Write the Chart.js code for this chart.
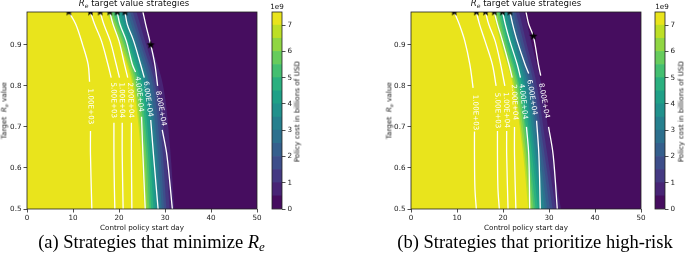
<!DOCTYPE html>
<html><head><meta charset="utf-8">
<script src="https://cdn.jsdelivr.net/npm/chart.js@4.4.1/dist/chart.umd.min.js"></script>
<style>
body{margin:0;background:#fff;width:685px;height:254px;position:relative;overflow:hidden;font-family:"DejaVu Sans",sans-serif;}
canvas{position:absolute;top:0;}
.t{position:absolute;white-space:nowrap;color:#111;line-height:1;text-align:center;}
.ttl{font-size:8.6px;width:200px;}
.lab{font-size:7.2px;width:200px;}
.cap{font-family:"Liberation Serif",serif;font-size:18.5px;width:400px;color:#000;}
.rot{transform:rotate(-90deg);transform-origin:center center;}
.m{font-style:italic;}
.m sub{font-size:70%;vertical-align:-0.3em;line-height:0;}
</style></head><body>
<canvas id="ma" width="265" height="225" style="left:0px"></canvas>
<canvas id="ca" width="40" height="225" style="left:262px"></canvas>
<canvas id="mb" width="265" height="225" style="left:384px"></canvas>
<canvas id="cb" width="40" height="225" style="left:645px"></canvas>

<div class="t ttl" style="left:34px;top:-1px"><span class="m">R<sub>e</sub></span> target value strategies</div>
<div class="t ttl" style="left:426px;top:-1px"><span class="m">R<sub>e</sub></span> target value strategies</div>
<div class="t lab" style="left:42px;top:224px">Control policy start day</div>
<div class="t lab" style="left:426px;top:224px">Control policy start day</div>
<div class="t lab rot" style="left:-95.8px;top:107px">Target &nbsp;<span class="m">R<sub>e</sub></span> value</div>
<div class="t lab rot" style="left:289px;top:107px">Target &nbsp;<span class="m">R<sub>e</sub></span> value</div>
<div class="t lab rot" style="left:197px;top:107.5px">Policy cost in billions of USD</div>
<div class="t lab rot" style="left:580.7px;top:107.5px">Policy cost in billions of USD</div>
<div class="t lab" style="left:177px;top:3.2px">1e9</div>
<div class="t lab" style="left:562px;top:3.2px">1e9</div>
<div class="t cap" style="left:-48.5px;top:232.5px">(a) Strategies that minimize <i>R<sub style="font-size:70%;vertical-align:-0.25em;line-height:0">e</sub></i></div>
<div class="t cap" style="left:335px;top:232.5px">(b) Strategies that prioritize high-risk</div>

<script>
// ---------------- data ----------------
const xTicks = [0, 10, 20, 30, 40, 50];
const yTicks = [0.5, 0.6, 0.7, 0.8, 0.9];
const cbTicks = [0, 1, 2, 3, 4, 5, 6, 7];
const costLevels = [0, 0.5, 1, 1.5, 2, 2.5, 3, 3.5, 4, 4.5, 5, 5.5, 6, 6.5, 7, 7.5]; // billions USD
const dayRange = [0, 50];
const rRange = [0.5, 0.98];

// filled-contour edges: start day where cost drops below each level, read at these R values
const bandR = [0.98, 0.9, 0.8, 0.65, 0.5];
// rows: level 7.0, 6.5, ..., 0.5
const edgesA = [
  [17.3, 20.2, 23.0, 24.7, 25.5],
  [17.7, 20.5, 23.3, 25.0, 25.8],
  [18.2, 21.0, 23.7, 25.4, 26.2],
  [18.6, 21.4, 24.1, 25.8, 26.6],
  [19.1, 21.8, 24.5, 26.2, 27.0],
  [19.6, 22.2, 25.0, 26.6, 27.5],
  [20.2, 22.7, 25.4, 27.1, 27.9],
  [20.7, 23.2, 25.9, 27.5, 28.4],
  [21.2, 23.7, 26.4, 28.0, 28.8],
  [21.8, 24.1, 26.8, 28.4, 29.3],
  [22.4, 24.7, 27.4, 28.9, 29.8],
  [23.0, 25.2, 27.9, 29.4, 30.3],
  [23.8, 25.9, 28.5, 30.1, 31.0],
  [25.0, 27.0, 29.6, 31.1, 32.0]
];
const edgesB = [
  [17.8, 19.6, 22.2, 24.2, 25.5],
  [18.1, 19.9, 22.5, 24.5, 25.9],
  [18.6, 20.3, 22.9, 24.9, 26.3],
  [19.0, 20.7, 23.3, 25.3, 26.7],
  [19.4, 21.1, 23.6, 25.6, 27.1],
  [19.8, 21.6, 24.1, 26.1, 27.6],
  [20.3, 22.1, 24.5, 26.5, 28.1],
  [20.8, 22.6, 24.9, 26.9, 28.6],
  [21.3, 23.0, 25.4, 27.4, 29.1],
  [21.7, 23.5, 25.8, 27.8, 29.6],
  [22.3, 24.0, 26.3, 28.3, 30.2],
  [22.8, 24.6, 26.8, 28.8, 30.8],
  [23.5, 25.2, 27.4, 29.4, 31.5],
  [24.6, 26.3, 28.4, 30.4, 32.6]
];

// white contour lines [day, R]; each line = [upper part, lower part] split at its label
const contourNames = ['1.00E+03', '5.00E+03', '1.00E+04', '2.00E+04', '4.00E+04', '6.00E+04', '8.00E+04'];
const linesA = [
  [[[9.1,0.98],[10.6,0.95],[12.1,0.9],[13.3,0.852],[13.6,0.81]], [[13.8,0.69],[13.8,0.632],[14.1,0.5]]],
  [[[13.8,0.98],[14.7,0.95],[16.2,0.909],[17.6,0.852],[18.3,0.82]], [[18.9,0.71],[18.9,0.632],[19.0,0.55],[19.1,0.5]]],
  [[[15.9,0.98],[16.7,0.95],[18.1,0.909],[19.4,0.852],[20.1,0.82]], [[20.7,0.71],[20.7,0.632],[20.9,0.5]]],
  [[[18.0,0.98],[18.7,0.95],[20.0,0.909],[21.2,0.852],[21.9,0.82]], [[22.7,0.71],[22.7,0.632],[22.8,0.5]]],
  [[[19.6,0.98],[20.2,0.95],[21.6,0.909],[22.9,0.852],[23.6,0.834]], [[24.9,0.725],[25.2,0.632],[25.7,0.5]]],
  [[[21.3,0.98],[21.8,0.95],[23.2,0.909],[24.7,0.852],[25.5,0.82]], [[26.9,0.717],[27.5,0.632],[28.5,0.5]]],
  [[[25.2,0.98],[25.8,0.95],[26.9,0.9],[27.8,0.852],[28.4,0.80]], [[29.4,0.693],[30.4,0.632],[31.6,0.5]]]
];
const linesB = [
  [[[9.4,0.98],[10.5,0.95],[11.7,0.909],[12.8,0.852],[13.5,0.795]], [[13.8,0.689],[13.8,0.632],[13.9,0.55],[14.2,0.5]]],
  [[[14.2,0.98],[14.9,0.95],[16.1,0.909],[17.7,0.852],[18.5,0.80]], [[18.8,0.69],[18.8,0.632],[18.9,0.55],[19.2,0.5]]],
  [[[16.2,0.98],[16.9,0.95],[18.3,0.909],[19.5,0.852],[20.4,0.80]], [[20.8,0.69],[20.8,0.632],[21.1,0.5]]],
  [[[18.1,0.98],[18.8,0.95],[19.9,0.909],[21.3,0.852],[22.0,0.82]], [[22.5,0.70],[22.5,0.632],[22.8,0.5]]],
  [[[19.9,0.98],[20.5,0.95],[21.5,0.909],[23.1,0.852],[23.8,0.82]], [[25.1,0.70],[25.6,0.632],[25.8,0.5]]],
  [[[21.5,0.98],[22.1,0.95],[23.1,0.909],[24.8,0.852],[25.6,0.83]], [[27.3,0.715],[27.8,0.632],[28.1,0.5]]],
  [[[25.0,0.98],[25.6,0.95],[26.6,0.921],[27.7,0.852],[28.2,0.825]], [[29.9,0.70],[30.9,0.632],[31.8,0.5]]]
];
const starsA = [[9.1,0.98],[13.8,0.98],[15.9,0.98],[18.0,0.98],[19.6,0.98],[21.3,0.98],[26.9,0.9]];
const starsB = [[9.4,0.98],[14.2,0.98],[16.2,0.98],[18.1,0.98],[19.9,0.98],[21.5,0.98],[26.6,0.921]];
// contour label anchors [day, R, angle deg]
const labelsA = [[13.8,0.75,89],[18.8,0.765,89],[20.6,0.765,89],[22.5,0.765,88],[24.4,0.78,84],[26.3,0.768,82],[29.1,0.745,80]];
const labelsB = [[14.0,0.735,89],[18.8,0.74,89],[20.7,0.741,88],[22.5,0.76,87],[24.4,0.762,84],[26.3,0.772,81],[28.9,0.764,80]];

// viridis colours of the 15 bands (bottom -> top)
const bandColors = ['#460d5f','#482475','#443982','#3d4e8a','#355f8d','#2d708e','#26808e','#21918c',
                    '#1fa087','#2bb07f','#44bf70','#67cc5c','#90d643','#bddf26','#e9e41c'];

// ---------------- drawing ----------------
const font7 = {family: 'DejaVu Sans', size: 7.2};
const tickColor = '#222';

function makeStar(r) {
  const c = document.createElement('canvas');
  const s = Math.ceil(r * 2 + 2);
  c.width = s; c.height = s;
  const g = c.getContext('2d');
  g.fillStyle = '#000';
  g.beginPath();
  for (let i = 0; i < 10; i++) {
    const rr = i % 2 ? r * 0.42 : r;
    const a = -Math.PI / 2 + i * Math.PI / 5;
    g.lineTo(s / 2 + rr * Math.cos(a), s / 2 + rr * Math.sin(a));
  }
  g.closePath(); g.fill();
  return c;
}
const starImg = makeStar(4.3);

const framePlugin = {
  id: 'frame',
  afterDatasetsDraw(chart) {
    const a = chart.chartArea, ctx = chart.ctx;
    ctx.save();
    ctx.strokeStyle = '#222'; ctx.lineWidth = 0.8;
    ctx.strokeRect(a.left, a.top, a.right - a.left, a.bottom - a.top);
    ctx.restore();
  }
};
const labelPlugin = {
  id: 'clabels',
  afterDatasetsDraw(chart, args, opts) {
    const ctx = chart.ctx, xs = chart.scales.x, ys = chart.scales.y;
    ctx.save();
    ctx.fillStyle = '#fff';
    ctx.font = '7.2px "DejaVu Sans"';
    ctx.textAlign = 'center'; ctx.textBaseline = 'middle';
    opts.items.forEach((l, i) => {
      ctx.save();
      ctx.translate(xs.getPixelForValue(l[0]), ys.getPixelForValue(l[1]));
      ctx.rotate(l[2] * Math.PI / 180);
      ctx.fillText(contourNames[i], 0, 0);
      ctx.restore();
    });
    ctx.restore();
  }
};

const pts = arr => arr.map(p => ({x: p[0], y: p[1]}));

function axisOpts(extra) {
  return Object.assign({
    type: 'linear',
    grid: {display: true, drawOnChartArea: false, drawTicks: true, tickLength: 3.5, color: '#222', lineWidth: 0.8},
    border: {display: false},
    ticks: {font: font7, color: tickColor, maxRotation: 0, autoSkip: false}
  }, extra);
}

function makeMain(id, edges, lines, stars, labels) {
  const ds = [];
  ds.push({data: pts([[dayRange[1], rRange[1]], [dayRange[1], rRange[0]]]), fill: {value: dayRange[0]},
           backgroundColor: bandColors[0], borderColor: 'rgba(0,0,0,0)', borderWidth: 0, pointRadius: 0, order: 30});
  edges.forEach((row, k) => {
    ds.push({data: pts(row.map((d, j) => [d, bandR[j]])), fill: {value: dayRange[0]},
             backgroundColor: bandColors[14 - k], borderColor: 'rgba(0,0,0,0)', borderWidth: 0,
             pointRadius: 0, tension: 0.35, order: 2 + k});
  });
  lines.forEach(line => line.forEach(seg => {
    ds.push({data: pts(seg), borderColor: '#fff', borderWidth: 1.3, fill: false, pointRadius: 0,
             tension: 0.35, order: 1, clip: 0});
  }));
  ds.push({data: pts(stars), showLine: false, pointStyle: starImg, pointRadius: 4.3, order: 0, clip: 0});
  new Chart(document.getElementById(id), {
    type: 'line',
    data: {datasets: ds},
    plugins: [framePlugin, labelPlugin],
    options: {
      responsive: false, animation: false, events: [], indexAxis: 'y',
      layout: {padding: {top: 12, right: 8, left: 0, bottom: 0}},
      plugins: {legend: {display: false}, tooltip: {enabled: false}, clabels: {items: labels}},
      scales: {
        x: axisOpts({position: 'bottom', min: dayRange[0], max: dayRange[1],
          afterBuildTicks: s => { s.ticks = xTicks.map(v => ({value: v})); },
          afterFit: s => { s.height = 16; },
          ticks: {font: font7, color: tickColor, maxRotation: 0, autoSkip: false, padding: 1, callback: v => String(v)}}),
        y: axisOpts({position: 'left', min: rRange[0], max: rRange[1],
          afterBuildTicks: s => { s.ticks = yTicks.map(v => ({value: v})); },
          afterFit: s => { s.width = 27; },
          ticks: {font: font7, color: tickColor, autoSkip: false, padding: 2, callback: v => v.toFixed(1)}})
      }
    }
  });
}

function makeBar(id) {
  const ds = bandColors.map((c, i) => ({
    data: [costLevels[i + 1] - costLevels[i]], backgroundColor: c, borderWidth: 0,
    barPercentage: 1, categoryPercentage: 1
  }));
  new Chart(document.getElementById(id), {
    type: 'bar',
    data: {labels: [''], datasets: ds},
    plugins: [framePlugin],
    options: {
      responsive: false, animation: false, events: [],
      layout: {padding: {top: 12, bottom: 16, left: 10, right: 0}},
      plugins: {legend: {display: false}, tooltip: {enabled: false}},
      scales: {
        x: {display: false, stacked: true},
        y: axisOpts({stacked: true, position: 'right', min: costLevels[0], max: costLevels[costLevels.length - 1],
          afterBuildTicks: s => { s.ticks = cbTicks.map(v => ({value: v})); },
          afterFit: s => { s.width = 20; },
          ticks: {font: font7, color: tickColor, autoSkip: false, padding: 2, callback: v => String(v)}})
      }
    }
  });
}

makeMain('ma', edgesA, linesA, starsA, labelsA);
makeMain('mb', edgesB, linesB, starsB, labelsB);
makeBar('ca');
makeBar('cb');
</script>
</body></html>
